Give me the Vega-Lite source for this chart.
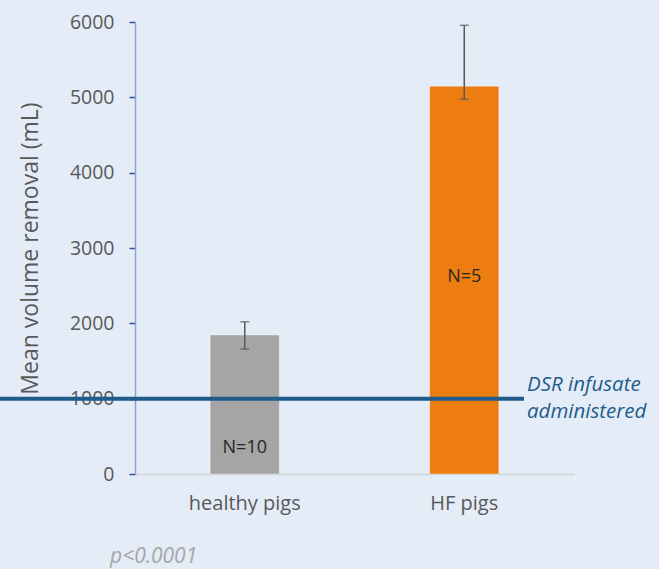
{
  "$schema": "https://vega.github.io/schema/vega-lite/v6.json",
  "autosize": {"type": "none"},
  "width": 439,
  "height": 452,
  "padding": {"left": 135, "top": 22, "right": 85, "bottom": 95},
  "background": "#e3ecf7",
  "config": {"view": {"stroke": null}, "font": "Open Sans"},
  "data": {"values": [
    {"group": "healthy pigs", "mean": 1845, "lo": 1658, "hi": 2020, "n": "N=10", "label_y": 345},
    {"group": "HF pigs", "mean": 5147, "lo": 4974, "hi": 5956, "n": "N=5", "label_y": 2615}
  ]},
  "title": {"text": "p<0.0001", "orient": "bottom", "anchor": "start", "frame": "group", "dx": -25, "offset": 33, "fontStyle": "italic", "fontWeight": "normal", "fontSize": 21, "color": "#a6a6a6", "font": "Open Sans"},
  "encoding": {
    "x": {"field": "group", "type": "nominal", "sort": ["healthy pigs", "HF pigs"],
      "scale": {"paddingInner": 0, "paddingOuter": 0},
      "axis": {"title": null, "labelAngle": 0, "ticks": false, "domainColor": "#d0d4d9", "domainWidth": 1.5, "labelFontSize": 20, "labelColor": "#595959", "labelPadding": 19, "labelFont": "Open Sans"}}
  },
  "layer": [
    {
      "mark": {"type": "bar", "width": {"band": 0.315}, "stroke": "#ffffff", "strokeOpacity": 0.35, "strokeWidth": 1},
      "encoding": {
        "y": {"field": "mean", "type": "quantitative", "scale": {"domain": [0, 6000]},
          "axis": {"title": "Mean volume removal (mL)", "format": "d", "values": [0, 1000, 2000, 3000, 4000, 5000, 6000], "grid": false, "domainColor": "#8aa6d0", "domainWidth": 1.5, "tickColor": "#2f5597", "tickSize": 6, "tickWidth": 1.5, "labelFontSize": 19.5, "labelColor": "#595959", "labelPadding": 15, "labelFont": "Open Sans", "titleFontSize": 23, "titleFontWeight": "normal", "titleColor": "#595959", "titlePadding": 27, "titleFont": "Open Sans"}},
        "color": {"field": "group", "type": "nominal", "scale": {"domain": ["healthy pigs", "HF pigs"], "range": ["#a5a5a5", "#ed7d11"]}, "legend": null}
      }
    },
    {
      "mark": {"type": "rule", "color": "#595959", "strokeWidth": 1.5},
      "encoding": {"y": {"field": "lo", "type": "quantitative"}, "y2": {"field": "hi"}}
    },
    {
      "mark": {"type": "tick", "color": "#595959", "thickness": 1.5, "size": 9},
      "encoding": {"y": {"field": "lo", "type": "quantitative"}}
    },
    {
      "mark": {"type": "tick", "color": "#595959", "thickness": 1.5, "size": 9},
      "encoding": {"y": {"field": "hi", "type": "quantitative"}}
    },
    {
      "data": {"values": [{"level": 1000}]},
      "mark": {"type": "rule", "color": "#1f5c8c", "strokeWidth": 4, "xOffset": -135, "x2Offset": -50},
      "encoding": {"y": {"field": "level", "type": "quantitative"}, "x": {"value": 0}, "x2": {"value": "width"}}
    },
    {
      "data": {"values": [{"level": 1000, "txt": ["DSR infusate", "administered"]}]},
      "mark": {"type": "text", "align": "left", "baseline": "middle", "fontStyle": "italic", "fontSize": 20.5, "color": "#1f5c8c", "dx": -47, "dy": -14, "lineHeight": 27, "font": "Open Sans"},
      "encoding": {"y": {"field": "level", "type": "quantitative"}, "x": {"value": 439}, "text": {"field": "txt"}}
    },
    {
      "mark": {"type": "text", "fontSize": 18, "color": "#262626", "baseline": "middle", "font": "Open Sans"},
      "encoding": {"y": {"field": "label_y", "type": "quantitative"}, "text": {"field": "n"}}
    }
  ]
}
